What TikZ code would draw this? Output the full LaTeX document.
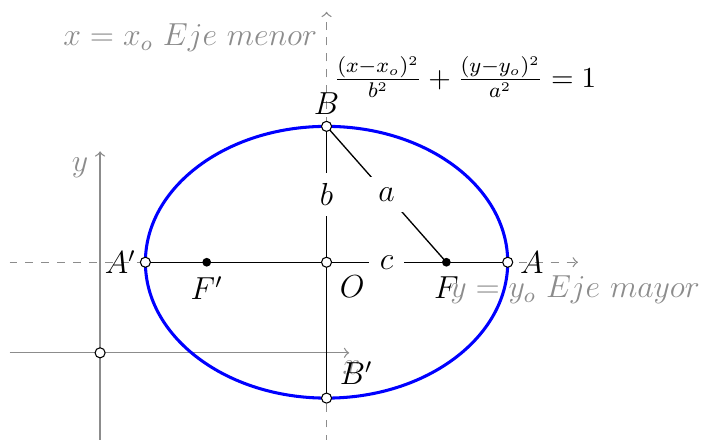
\documentclass[tikz,border=0pt]{standalone}
\usetikzlibrary{calc}
\begin{document}
\begin{tikzpicture}[x=0.6cm,y=0.6cm,
  font=\fontsize{11.5pt}{14pt}\selectfont,
  axis/.style={black!45, line width=0.5pt, ->},
  guide/.style={black!45, line width=0.5pt, dashed, ->},
  lbl/.style={text=black!45},
  seg/.style={black, line width=0.5pt},
  curve/.style={blue, line width=1.15pt},
  openpt/.style={circle, draw=black, fill=white, inner sep=0pt, minimum size=3.8pt, line width=0.4pt},
  fullpt/.style={circle, fill=black, inner sep=0pt, minimum size=3.3pt},
  cut/.style={fill=white, inner sep=4pt}]
\useasboundingbox (-2.21,-1.92) rectangle (13.29,7.79);
% coordinates
\coordinate (o0) at (0,0);
\coordinate (xs) at (-2,0);
\coordinate (xe) at (5.5,0);
\coordinate (ys) at (0,-2);
\coordinate (ye) at (0,4.45);
\coordinate (hs) at (-2,2);
\coordinate (he) at (10.55,2);
\coordinate (vs) at (5,-2);
\coordinate (ve) at (5,7.53);
\coordinate (O) at (5,2);
\coordinate (A) at (9,2);
\coordinate (A1) at (1,2);
\coordinate (B) at (5,5);
\coordinate (B1) at (5,-1);
\coordinate (F) at ({5+sqrt(7)},2);
\coordinate (F1) at ({5-sqrt(7)},2);
% axes and guides
\draw[axis] (xs) -- (xe);
\draw[axis] (ys) -- (ye);
\node[lbl] (xl) at (5.55,-0.33) {$x$};
\node[lbl] (yl) at (-0.44,4.08) {$y$};
\draw[guide] (hs) -- (he);
\draw[guide] (vs) -- (ve);
\node[lbl, anchor=east] (menor) at (5.0,6.95) {$x=x_o\ Eje\ menor$};
\node[lbl] (mayor) at (10.49,1.39) {$y=y_o\ Eje\ mayor$};
% ellipse
\draw[curve] (O) ellipse [x radius=4, y radius=3];
% segments
\draw[seg] (A1) -- (A);
\draw[seg] (B1) -- (B);
\draw[seg] (B) -- (F) node[midway, cut] (la) {$a$};
\path (O) -- (B) node[midway, cut] (lb) {$b$};
\path (O) -- (F) node[midway, cut] (lc) {$c$};
% points
\node[openpt, label={[label distance=-1pt]above:$B$}] (pB) at (B) {};
\node[openpt, label={[label distance=0pt]above right:$B'$}] (pB1) at (B1) {};
\node[openpt, label={[label distance=-1pt]right:$A$}] (pA) at (A) {};
\node[openpt, label={[label distance=-2pt]left:{$A'$}}] (pA1) at (A1) {};
\node[openpt, label=below right:$O$] (pO) at (O) {};
\node[openpt] (p0) at (o0) {};
\node[fullpt, label={[label distance=0pt]below:$F$}] (pF) at (F) {};
\node[fullpt, label={[label distance=0pt]below:{$F'$}}] (pF1) at (F1) {};
% equation
\node[font=\fontsize{11pt}{13pt}\selectfont] (eq) at (8.06,6.09) {$\frac{(x-x_o)^2}{b^2}+\frac{(y-y_o)^2}{a^2}=1$};
\end{tikzpicture}
\end{document}
